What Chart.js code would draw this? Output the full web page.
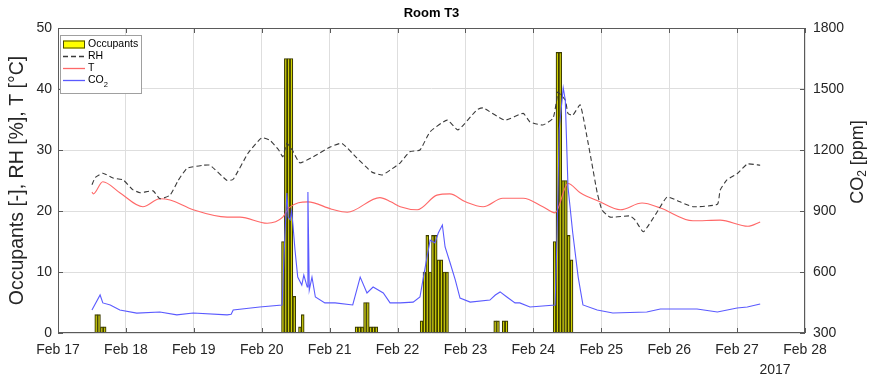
<!DOCTYPE html>
<html>
<head>
<meta charset="utf-8">
<title>Room T3</title>
<script src="https://cdn.jsdelivr.net/npm/chart.js@4.4.1/dist/chart.umd.min.js"></script>
<style>
  body { margin: 0; background: #fff; }
  canvas { display: block; }
</style>
</head>
<body>
<canvas id="chart" width="879" height="380"></canvas>
<script>
// --- data (day of month, February 2017) ---

// occupants, hourly counts: day, hour of day, count
const occDay   = [17, 17, 17, 17,
                  20, 20, 20, 20, 20, 20, 20,
                  21, 21, 21, 21, 21, 21, 21, 21,
                  22, 22, 22, 22, 22, 22, 22, 22, 22, 22,
                  23, 23, 23, 23,
                  24, 24, 24, 24, 24, 24, 24];
const occHour  = [13, 14, 15, 16,
                  7, 8, 9, 10, 11, 13, 14,
                  9, 10, 11, 12, 13, 14, 15, 16,
                  8, 9, 10, 11, 12, 13, 14, 15, 16, 17,
                  10, 11, 13, 14,
                  7, 8, 9, 10, 11, 12, 13];
const occCount = [3, 3, 1, 1,
                  15, 45, 45, 45, 6, 1, 3,
                  1, 1, 1, 5, 5, 1, 1, 1,
                  2, 10, 16, 10, 16, 16, 12, 12, 10, 10,
                  2, 2, 2, 2,
                  15, 46, 46, 25, 25, 16, 12];

// relative humidity [%]
const rhDays = [17.50, 17.55, 17.66, 17.81, 17.96, 18.10, 18.21, 18.40, 18.50, 18.65, 18.77, 18.90,
                19.14, 19.24, 19.49, 19.58, 19.80, 20.00, 20.12, 20.25, 20.31, 20.37, 20.45, 20.56,
                20.76, 21.01, 21.18, 21.40, 21.62, 21.77, 21.89, 22.04, 22.18, 22.33, 22.48, 22.73,
                22.89, 23.17, 23.26, 23.58, 23.85, 23.95, 24.14, 24.29, 24.35, 24.36, 24.47, 24.51,
                24.58, 24.69, 24.79, 24.86, 24.94, 25.01, 25.13, 25.42, 25.50, 25.62, 25.82, 25.97,
                26.16, 26.35, 26.71, 26.75, 26.85, 27.00, 27.15, 27.34];
const rhValues = [24.3, 25.5, 26.2, 25.4, 25.1, 23.5, 23.0, 23.3, 22.0, 22.6, 25.0, 27.0,
                  27.5, 27.5, 25.0, 25.2, 29.5, 32.0, 31.6, 30.0, 28.9, 31.1, 30.0, 27.9,
                  28.9, 30.5, 31.1, 28.7, 26.4, 25.9, 26.7, 27.9, 29.7, 30.0, 33.0, 34.9,
                  33.3, 36.6, 36.9, 34.9, 36.0, 34.6, 34.1, 35.2, 38.7, 39.5, 38.2, 36.0,
                  35.7, 37.4, 32.1, 27.9, 23.0, 20.2, 19.0, 19.2, 18.5, 16.6, 19.8, 22.3,
                  21.5, 20.7, 21.1, 23.4, 25.1, 26.1, 27.7, 27.5];

// temperature [°C]
const tDays = [17.50, 17.52, 17.66, 17.91, 18.25, 18.50, 18.65, 18.99, 19.49, 19.68, 20.08, 20.31,
               20.40, 20.68, 21.03, 21.26, 21.74, 21.90, 22.04, 22.29, 22.58, 22.77, 23.00, 23.26,
               23.55, 23.85, 24.14, 24.32, 24.51, 24.69, 24.98, 25.28, 25.60, 25.87, 26.35, 26.75,
               27.16, 27.34];
const tValues = [23.1, 22.8, 24.8, 23.0, 20.7, 22.0, 21.8, 20.2, 19.0, 19.0, 18.0, 19.0,
                 20.5, 21.5, 20.3, 19.8, 22.2, 21.5, 20.7, 20.2, 22.6, 22.8, 21.5, 20.7,
                 22.1, 22.1, 20.7, 19.7, 24.5, 23.0, 21.5, 20.2, 21.3, 20.5, 18.4, 18.5,
                 17.5, 18.2];

// CO2 [ppm]
const co2Days = [17.50, 17.62, 17.66, 17.77, 17.91, 18.16, 18.50, 18.75, 18.99, 19.49, 19.55, 19.58,
                 19.97, 20.30, 20.33, 20.37, 20.39, 20.42, 20.44, 20.46, 20.49, 20.53, 20.59, 20.62,
                 20.67, 20.68, 20.70, 20.74, 20.79, 20.93, 21.08, 21.34, 21.45, 21.55, 21.64, 21.79,
                 21.89, 22.04, 22.23, 22.33, 22.40, 22.48, 22.55, 22.60, 22.66, 22.70, 22.77, 22.85,
                 22.92, 23.07, 23.36, 23.44, 23.51, 23.61, 23.73, 23.80, 23.95, 24.32, 24.35, 24.38,
                 24.44, 24.47, 24.51, 24.58, 24.66, 24.73, 24.94, 25.17, 25.67, 25.87, 26.41, 26.71,
                 27.00, 27.15, 27.34];
const co2Values = [413, 487, 448, 438, 413, 398, 403, 389, 398, 389, 392, 413,
                   428, 438, 693, 988, 870, 856, 900, 831, 708, 575, 536, 585,
                   526, 993, 511, 575, 477, 448, 448, 438, 575, 497, 526, 497,
                   448, 448, 452, 477, 610, 757, 743, 792, 831, 723, 649, 561,
                   472, 452, 462, 487, 502, 477, 448, 448, 428, 438, 792, 1300,
                   1505, 1446, 1018, 792, 575, 438, 413, 398, 403, 418, 418, 403,
                   423, 428, 443];

// axis ticks
const dayTicks = [17, 18, 19, 20, 21, 22, 23, 24, 25, 26, 27, 28];
const leftTicks = [0, 10, 20, 30, 40, 50];
const rightTicks = [300, 600, 900, 1200, 1500, 1800];

// --- helpers ---
const pairs = (xs, ys) => xs.map((x, i) => ({ x: x, y: ys[i] }));
const occPoints = occDay.map((d, i) => ({ x: d + (occHour[i] + 0.5) / 24, y: occCount[i] }));

const TEXT = '#262626';
const GRID = '#dedede';
const FONT = '"Liberation Sans", Arial, sans-serif';
Chart.defaults.font.family = FONT;
Chart.defaults.color = TEXT;

// frame, inward ticks, title, legend, right label, year label (MATLAB look)
const matlabDecor = {
    id: 'matlabDecor',
    afterDraw(chart) {
        const { ctx, chartArea: a, scales } = chart;
        ctx.save();

        ctx.strokeStyle = '#5a5a5a';
        ctx.lineWidth = 1;
        ctx.strokeRect(a.left + 0.5, a.top + 0.5, a.right - a.left - 1, a.bottom - a.top - 1);

        ctx.beginPath();
        dayTicks.forEach(v => {
            const px = Math.round(scales.x.getPixelForValue(v)) + 0.5;
            ctx.moveTo(px, a.bottom); ctx.lineTo(px, a.bottom - 5);
            ctx.moveTo(px, a.top); ctx.lineTo(px, a.top + 5);
        });
        leftTicks.forEach(v => {
            const py = Math.round(scales.y.getPixelForValue(v)) + 0.5;
            ctx.moveTo(a.left, py); ctx.lineTo(a.left + 5, py);
        });
        rightTicks.forEach(v => {
            const py = Math.round(scales.y1.getPixelForValue(v)) + 0.5;
            ctx.moveTo(a.right, py); ctx.lineTo(a.right - 5, py);
        });
        ctx.stroke();

        // title
        ctx.fillStyle = '#000';
        ctx.font = 'bold 13px ' + FONT;
        ctx.textAlign = 'center';
        ctx.textBaseline = 'middle';
        ctx.fillText('Room T3', (a.left + a.right) / 2, 13);

        // year under the last ticks
        ctx.fillStyle = TEXT;
        ctx.font = '14px ' + FONT;
        ctx.fillText('2017', 775, 370);

        // right axis label, reading bottom to top, with subscript
        ctx.save();
        ctx.translate(858, 162);
        ctx.rotate(-Math.PI / 2);
        const big = '18px ' + FONT;
        const sub = '12px ' + FONT;
        ctx.font = big;
        const wCO = ctx.measureText('CO').width;
        const wRest = ctx.measureText(' [ppm]').width;
        ctx.font = sub;
        const w2 = ctx.measureText('2').width;
        const x0 = -(wCO + w2 + wRest) / 2;
        ctx.textAlign = 'left';
        ctx.font = big;
        ctx.fillText('CO', x0, 0);
        ctx.font = sub;
        ctx.fillText('2', x0 + wCO, 5);
        ctx.font = big;
        ctx.fillText(' [ppm]', x0 + wCO + w2, 0);
        ctx.restore();

        // legend box
        const lx = 60, ly = 35, lw = 81, lh = 58;
        ctx.fillStyle = '#fff';
        ctx.fillRect(lx, ly, lw, lh);
        ctx.strokeStyle = '#a0a0a0';
        ctx.strokeRect(lx + 0.5, ly + 0.5, lw, lh);

        const ds = chart.data.datasets;
        const rows = [44.5, 56.5, 68.5, 80.5];
        ctx.textAlign = 'left';
        ctx.textBaseline = 'middle';
        ds.forEach((d, i) => {
            const yy = rows[i];
            if (d.type === 'bar') {
                ctx.fillStyle = '#ffff00';
                ctx.fillRect(63, yy - 4, 22, 8);
                ctx.strokeStyle = '#4a4a00';
                ctx.lineWidth = 1;
                ctx.setLineDash([]);
                ctx.strokeRect(63.5, yy - 3.5, 21, 7);
            } else {
                ctx.strokeStyle = d.borderColor;
                ctx.lineWidth = 1.3;
                ctx.setLineDash(d.borderDash || []);
                ctx.beginPath();
                ctx.moveTo(63, yy);
                ctx.lineTo(85, yy);
                ctx.stroke();
                ctx.setLineDash([]);
            }
            ctx.fillStyle = '#000';
            ctx.font = '10.5px ' + FONT;
            if (d.label === 'CO2') {
                ctx.fillText('CO', 88, yy);
                const w = ctx.measureText('CO').width;
                ctx.font = '7.5px ' + FONT;
                ctx.fillText('2', 88 + w, yy + 4);
            } else {
                ctx.fillText(d.label, 88, yy);
            }
        });
        ctx.restore();
    }
};

new Chart(document.getElementById('chart').getContext('2d'), {
    type: 'bar',
    data: {
        datasets: [
            {
                type: 'bar',
                label: 'Occupants',
                data: occPoints,
                yAxisID: 'y',
                backgroundColor: '#d6d600',
                borderColor: '#3c3c00',
                borderWidth: 1.2,
                barPercentage: 1,
                categoryPercentage: 1,
                grouped: false,
                order: 4
            },
            {
                type: 'line',
                label: 'RH',
                data: pairs(rhDays, rhValues),
                yAxisID: 'y',
                borderColor: '#3a3a3a',
                borderWidth: 1.1,
                borderDash: [5, 3],
                pointRadius: 0,
                tension: 0.15,
                order: 2
            },
            {
                type: 'line',
                label: 'T',
                data: pairs(tDays, tValues),
                yAxisID: 'y',
                borderColor: '#ff6868',
                borderWidth: 1.1,
                pointRadius: 0,
                cubicInterpolationMode: 'monotone',
                order: 3
            },
            {
                type: 'line',
                label: 'CO2',
                data: pairs(co2Days, co2Values),
                yAxisID: 'y1',
                borderColor: '#5a5aff',
                borderWidth: 1.1,
                pointRadius: 0,
                tension: 0,
                order: 1
            }
        ]
    },
    options: {
        responsive: false,
        animation: false,
        layout: { padding: { top: 28 } },
        plugins: {
            legend: { display: false },
            tooltip: { enabled: false },
            title: { display: false }
        },
        scales: {
            x: {
                type: 'linear',
                min: 17,
                max: 28,
                offset: false,
                afterFit: s => { s.height = 47; },
                afterBuildTicks: s => { s.ticks = dayTicks.map(v => ({ value: v })); },
                ticks: {
                    font: { size: 14 },
                    padding: 9,
                    maxRotation: 0,
                    callback: v => 'Feb ' + v
                },
                grid: { color: GRID, drawTicks: false, offset: false },
                border: { display: false }
            },
            y: {
                position: 'left',
                min: 0,
                max: 50,
                afterFit: s => { s.width = 58; },
                afterBuildTicks: s => { s.ticks = leftTicks.map(v => ({ value: v })); },
                ticks: { font: { size: 14 }, padding: 6 },
                grid: { color: GRID, drawTicks: false },
                border: { display: false },
                title: {
                    display: true,
                    text: 'Occupants [-], RH [%], T [°C]',
                    font: { size: 19.5 },
                    color: TEXT,
                    padding: { top: 6, bottom: 0 }
                }
            },
            y1: {
                position: 'right',
                min: 300,
                max: 1800,
                afterFit: s => { s.width = 74; },
                afterBuildTicks: s => { s.ticks = rightTicks.map(v => ({ value: v })); },
                ticks: { font: { size: 14 }, padding: 8, callback: v => String(v) },
                grid: { drawOnChartArea: false, drawTicks: false },
                border: { display: false }
            }
        }
    },
    plugins: [matlabDecor]
});
</script>
</body>
</html>
